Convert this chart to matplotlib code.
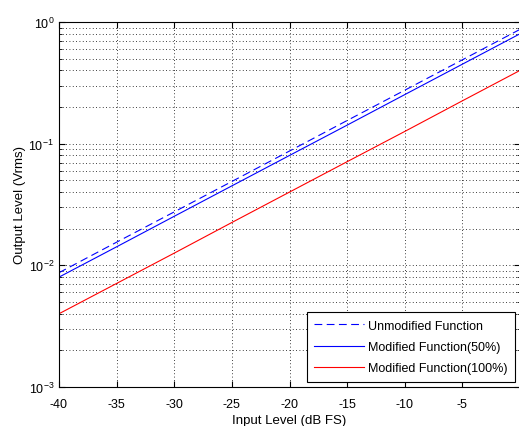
import numpy as np
import matplotlib.pyplot as plt
from matplotlib.ticker import LogLocator, NullFormatter

plt.rcParams['font.family'] = ['Liberation Sans', 'DejaVu Sans']
plt.rcParams['font.size'] = 9
plt.rcParams['axes.unicode_minus'] = False
plt.rcParams['mathtext.fontset'] = 'custom'
plt.rcParams['mathtext.rm'] = 'Liberation Sans'
plt.rcParams['mathtext.it'] = 'Liberation Sans'

# input level (dB FS)
input_db = [-40, -35, -30, -25, -20, -15, -10, -5, 0]
# output level (Vrms)
unmodified = [0.0087, 0.0155, 0.0275, 0.0489, 0.087, 0.155, 0.275, 0.489, 0.87]
modified_50 = [0.0080, 0.0142, 0.0253, 0.0450, 0.080, 0.142, 0.253, 0.450, 0.80]
modified_100 = [0.0040, 0.0071, 0.0126, 0.0225, 0.040, 0.0711, 0.126, 0.225, 0.40]
x_ticks = [-40, -35, -30, -25, -20, -15, -10, -5]

fig = plt.figure(figsize=(5.19, 4.27), dpi=100)
ax = fig.add_axes([59/519, 39/427, 461/519, 365/427])

ax.semilogy(input_db, unmodified, color='blue', linestyle=(0, (7, 4)), linewidth=0.8,
            label='Unmodified Function')
ax.semilogy(input_db, modified_50, color='blue', linewidth=0.8, label='Modified Function(50%)')
ax.semilogy(input_db, modified_100, color='red', linewidth=0.8, label='Modified Function(100%)')

ax.set_xlim(-40, 0)
ax.set_ylim(1e-3, 1)
ax.set_xticks(x_ticks)
ax.yaxis.set_minor_locator(LogLocator(base=10, subs=np.arange(2, 10)))
ax.yaxis.set_minor_formatter(NullFormatter())

ax.grid(True, which='major', color='black', linestyle=(0, (1, 3)), linewidth=0.6)
ax.grid(True, which='minor', axis='y', color='black', linestyle=(0, (1, 3)), linewidth=0.6)
ax.tick_params(which='both', direction='in', top=True, right=True, labelsize=9)
ax.tick_params(which='major', length=4)
ax.tick_params(which='minor', length=2)
ax.tick_params(axis='x', pad=8)

ax.set_xlabel('Input Level (dB FS)', fontsize=9.5, labelpad=3)
ax.set_ylabel('Output Level (Vrms)', fontsize=9.5, labelpad=2)

leg = ax.legend(loc='lower right', fontsize=9, fancybox=False, framealpha=1,
                edgecolor='black', borderaxespad=0.4, handlelength=4,
                labelspacing=0.75, handletextpad=0.3, borderpad=0.6)
leg.get_frame().set_linewidth(0.8)

fig.savefig('out.png', dpi=100)
